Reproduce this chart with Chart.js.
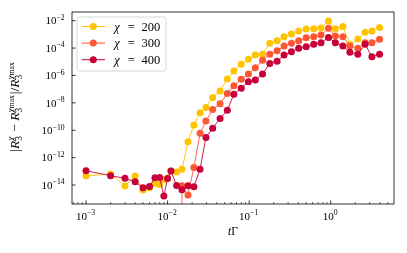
<!DOCTYPE html>
<html><head><meta charset="utf-8">
<script src="https://cdn.jsdelivr.net/npm/chart.js@4/dist/chart.umd.min.js"></script>
<style>html,body{margin:0;padding:0;background:#fff;}#wrap{width:407px;height:253px;position:relative;}</style>
</head><body><div id="wrap"><canvas id="c" width="407" height="253"></canvas></div>
<script>
// ---- data ----
const times = [1e-3, 2e-3, 3e-3, 4e-3, 5e-3, 6e-3, 7e-3, 8e-3, 9e-3, 1e-2,
  1.1e-2, 1.29e-2, 1.5e-2, 1.78e-2, 2.1e-2, 2.5e-2, 2.95e-2, 3.57e-2, 4.4e-2, 5.4e-2,
  6.5e-2, 8.0e-2, 9.8e-2, 0.119, 0.146, 0.179, 0.22, 0.268, 0.33, 0.405,
  0.50, 0.62, 0.76, 0.94, 1.14, 1.41, 1.72, 2.15, 2.64, 3.2, 3.97];
const chi200 = [4.6e-14, 6.3e-14, 8.5e-15, 4.6e-14, 4.4e-15, 6.3e-15, 1.3e-14, 1.1e-14, 2.5e-14, 3.2e-14,
  1.05e-13, 8.9e-14, 1.4e-13, 1.45e-11, 2.4e-10, 1.9e-9, 4.5e-9, 2.5e-8, 7.2e-8, 5.4e-7,
  2.1e-6, 6.5e-6, 1.5e-5, 3.1e-5, 3.5e-5, 2.2e-4, 3.4e-4, 6.6e-4, 1.05e-3, 1.74e-3,
  2.45e-3, 2.6e-3, 2.9e-3, 9.3e-3, 2.6e-3, 3.8e-3, 1.8e-4, 4.6e-4, 1.4e-3, 1.74e-3, 3.2e-3];
// 1e-300 stands for an exact zero (off the bottom of the log axis)
const chi300 = [1e-300, 1e-300, 1e-300, 1e-300, 1e-300, 1e-300, 1e-300, 1e-300, 1e-300, 1e-300,
  1e-300, 1e-300, 8.9e-15, 1.9e-15, 1.9e-13, 5.9e-11, 4.7e-10, 3.2e-9, 8.5e-9, 4.9e-8,
  1.8e-7, 5.2e-7, 1.26e-6, 3.6e-6, 1.3e-5, 3.5e-5, 6.3e-5, 1.4e-4, 2.2e-4, 3.4e-4,
  5.6e-4, 6.6e-4, 8.9e-4, 2.75e-3, 7.6e-4, 6.6e-4, 1.4e-4, 9.5e-5, 2.45e-4, 2.45e-4, 4.4e-4];
const chi400 = [1.1e-13, 4.8e-14, 3.1e-14, 1.7e-14, 6.3e-15, 7.9e-15, 3.4e-14, 3.6e-14, 1.6e-15, 3.0e-14,
  1.05e-13, 9.3e-15, 4.5e-15, 8.9e-15, 7.4e-15, 1.4e-13, 3.0e-11, 1.4e-10, 7.1e-10, 2.9e-9,
  4.3e-8, 1.15e-7, 3.5e-7, 4.6e-7, 1.26e-6, 7.6e-6, 1.1e-5, 3.1e-5, 5.4e-5, 9.5e-5,
  1.23e-4, 1.9e-4, 2.45e-4, 6.0e-4, 2.45e-4, 1.4e-4, 4.9e-5, 3.6e-5, 1.9e-4, 2.3e-5, 3.5e-5];
const chiValues = ['200', '300', '400'];
const seriesColors = ['#FFC300', '#FF5733', '#C70039'];
const yTickValues = [1e-14, 1e-12, 1e-10, 1e-8, 1e-6, 1e-4, 1e-2];
const xMajorTicks = [1e-3, 1e-2, 1e-1, 1];
const xMinorTicks = [7e-4, 8e-4, 9e-4, 2e-3, 3e-3, 4e-3, 5e-3, 6e-3, 7e-3, 8e-3, 9e-3,
  2e-2, 3e-2, 4e-2, 5e-2, 6e-2, 7e-2, 8e-2, 9e-2, 0.2, 0.3, 0.4, 0.5, 0.6, 0.7, 0.8, 0.9, 2, 3, 4, 5];
const xRange = [6.73e-4, 5.97];
const yRange = [4.1e-16, 4.3e-2];

// ---- rich text helpers ----
const FONT = '"Liberation Serif", "DejaVu Serif", serif';
function fnt(size, it) { return (it ? 'italic ' : '') + size.toFixed(2) + 'px ' + FONT; }
function layoutRich(ctx, parts, size) {
  const ops = []; let x = 0;
  for (const p of parts) {
    if (p.t !== undefined) {
      const font = fnt(size * (p.k || 1), p.it); ctx.font = font;
      ops.push({ text: p.t, font, dx: x, dy: 0 }); x += ctx.measureText(p.t).width + (p.gap || 0);
    } else {
      const ss = size * 0.7; let wsup = 0, wsub = 0;
      if (p.sup) for (const q of p.sup) {
        const font = fnt(ss * (q.k || 1), q.it); ctx.font = font;
        ops.push({ text: q.t, font, dx: x + wsup, dy: -size * 0.4 + (q.dy || 0) * size });
        wsup += ctx.measureText(q.t).width;
      }
      if (p.sub) { const font = fnt(ss, false); ctx.font = font; ops.push({ text: p.sub, font, dx: x, dy: size * 0.24 }); wsub = ctx.measureText(p.sub).width; }
      x += Math.max(wsup, wsub) + size * 0.08;
    }
  }
  return { ops, width: x };
}
function drawRich(ctx, parts, size, x, y, align) {
  const L = layoutRich(ctx, parts, size);
  const x0 = align === 'center' ? x - L.width / 2 : align === 'right' ? x - L.width : x;
  ctx.textAlign = 'left'; ctx.textBaseline = 'alphabetic';
  for (const o of L.ops) { ctx.font = o.font; ctx.fillText(o.text, x0 + o.dx, y + o.dy); }
}
function powParts(v) {
  const e = Math.round(Math.log10(v));
  return [{ t: '10' }, { sup: [{ t: (e < 0 ? '\u2212' : '') + Math.abs(e) }] }];
}

const decor = {
  id: 'decor',
  afterDraw(chart) {
    const { ctx, chartArea: a, scales: { x, y } } = chart;
    ctx.save();
    ctx.fillStyle = '#000'; ctx.strokeStyle = '#000';
    // frame
    ctx.lineWidth = 0.8;
    ctx.strokeRect(a.left, a.top, a.right - a.left, a.bottom - a.top);
    // x ticks (inward)
    for (const t of x.ticks) {
      const px = x.getPixelForValue(t.value);
      const len = t.major ? 3.5 : 2;
      ctx.lineWidth = t.major ? 0.8 : 0.6;
      ctx.beginPath(); ctx.moveTo(px, a.bottom); ctx.lineTo(px, a.bottom - len); ctx.stroke();
      if (t.major) drawRich(ctx, powParts(t.value), 11, px, 219.5, 'center');
    }
    // y ticks (inward)
    for (const t of y.ticks) {
      const py = y.getPixelForValue(t.value);
      ctx.lineWidth = 0.8;
      ctx.beginPath(); ctx.moveTo(a.left, py); ctx.lineTo(a.left + 3.5, py); ctx.stroke();
      drawRich(ctx, powParts(t.value), 11, 65.5, py + 3.8, 'right');
    }
    // x title
    drawRich(ctx, [{ t: 't', it: true }, { t: '\u0393' }], 11.5, (a.left + a.right) / 2, 234.5, 'center');
    // y title
    ctx.save();
    ctx.translate(19, (a.top + a.bottom) / 2 - 1.5);
    ctx.rotate(-Math.PI / 2);
    const sc = [{ t: '\u03c7', it: true }];
    const scm = [{ t: '\u03c7', it: true }, { t: 'max', k: 0.8, dy: 0.05 }];
    drawRich(ctx, [{ t: '|' }, { t: 'R', it: true }, { sub: '3', sup: sc }, { t: ' \u2212 ' },
      { t: 'R', it: true }, { sub: '3', sup: scm }, { t: '|/' }, { t: 'R', it: true }, { sub: '3', sup: scm }],
      13.5, 0, 0, 'center');
    ctx.restore();
    // legend
    const bx = 77, by = 17, bw = 89, bh = 54, r = 3;
    ctx.beginPath();
    ctx.moveTo(bx + r, by); ctx.lineTo(bx + bw - r, by); ctx.quadraticCurveTo(bx + bw, by, bx + bw, by + r);
    ctx.lineTo(bx + bw, by + bh - r); ctx.quadraticCurveTo(bx + bw, by + bh, bx + bw - r, by + bh);
    ctx.lineTo(bx + r, by + bh); ctx.quadraticCurveTo(bx, by + bh, bx, by + bh - r);
    ctx.lineTo(bx, by + r); ctx.quadraticCurveTo(bx, by, bx + r, by);
    ctx.closePath();
    ctx.fillStyle = 'rgba(255,255,255,0.8)'; ctx.fill();
    ctx.strokeStyle = '#cccccc'; ctx.lineWidth = 0.8; ctx.stroke();
    chart.data.datasets.forEach((ds, i) => {
      const cy = 26.5 + i * 16.6;
      ctx.strokeStyle = ds.borderColor; ctx.lineWidth = 1;
      ctx.beginPath(); ctx.moveTo(81.7, cy); ctx.lineTo(105, cy); ctx.stroke();
      ctx.fillStyle = ds.borderColor;
      ctx.beginPath(); ctx.arc(93.3, cy, 3.5, 0, Math.PI * 2); ctx.fill();
      ctx.fillStyle = '#000';
      ctx.textBaseline = 'alphabetic';
      ctx.font = fnt(12.5, true); ctx.textAlign = 'left';
      ctx.fillText('\u03c7', 114.3, cy + 4);
      ctx.font = fnt(12.5, false); ctx.textAlign = 'center';
      ctx.fillText('=', 131.3, cy + 4);
      ctx.textAlign = 'left';
      ctx.fillText(chiValues[i], 141.5, cy + 4);
    });
    ctx.restore();
  }
};

const seriesData = [chi200, chi300, chi400];
const datasets = seriesData.map((vals, i) => ({
  label: '\u03c7 = ' + chiValues[i],
  data: times.map((t, k) => ({ x: t, y: vals[k] })),
  borderColor: seriesColors[i],
  backgroundColor: seriesColors[i],
  pointBackgroundColor: seriesColors[i],
  borderWidth: 0.9,
  pointRadius: 3.5,
  pointBorderWidth: 0,
  pointHoverRadius: 3.5,
  tension: 0,
  order: 2 - i
}));

new Chart(document.getElementById('c'), {
  type: 'line',
  data: { datasets },
  options: {
    responsive: false, animation: false, events: [],
    layout: { padding: { left: 0, right: 13, top: 12, bottom: 0 } },
    plugins: { legend: { display: false }, tooltip: { enabled: false } },
    scales: {
      x: {
        type: 'logarithmic', min: xRange[0], max: xRange[1],
        grid: { display: false }, border: { display: false },
        ticks: { display: false },
        afterBuildTicks: s => {
          s.ticks = xMajorTicks.map(v => ({ value: v, major: true }))
            .concat(xMinorTicks.map(v => ({ value: v, major: false })));
        },
        afterFit: s => { s.height = 49; }
      },
      y: {
        type: 'logarithmic', min: yRange[0], max: yRange[1],
        grid: { display: false }, border: { display: false },
        ticks: { display: false },
        afterBuildTicks: s => { s.ticks = yTickValues.map(v => ({ value: v, major: true })); },
        afterFit: s => { s.width = 72; }
      }
    }
  },
  plugins: [decor]
});
</script></body></html>
